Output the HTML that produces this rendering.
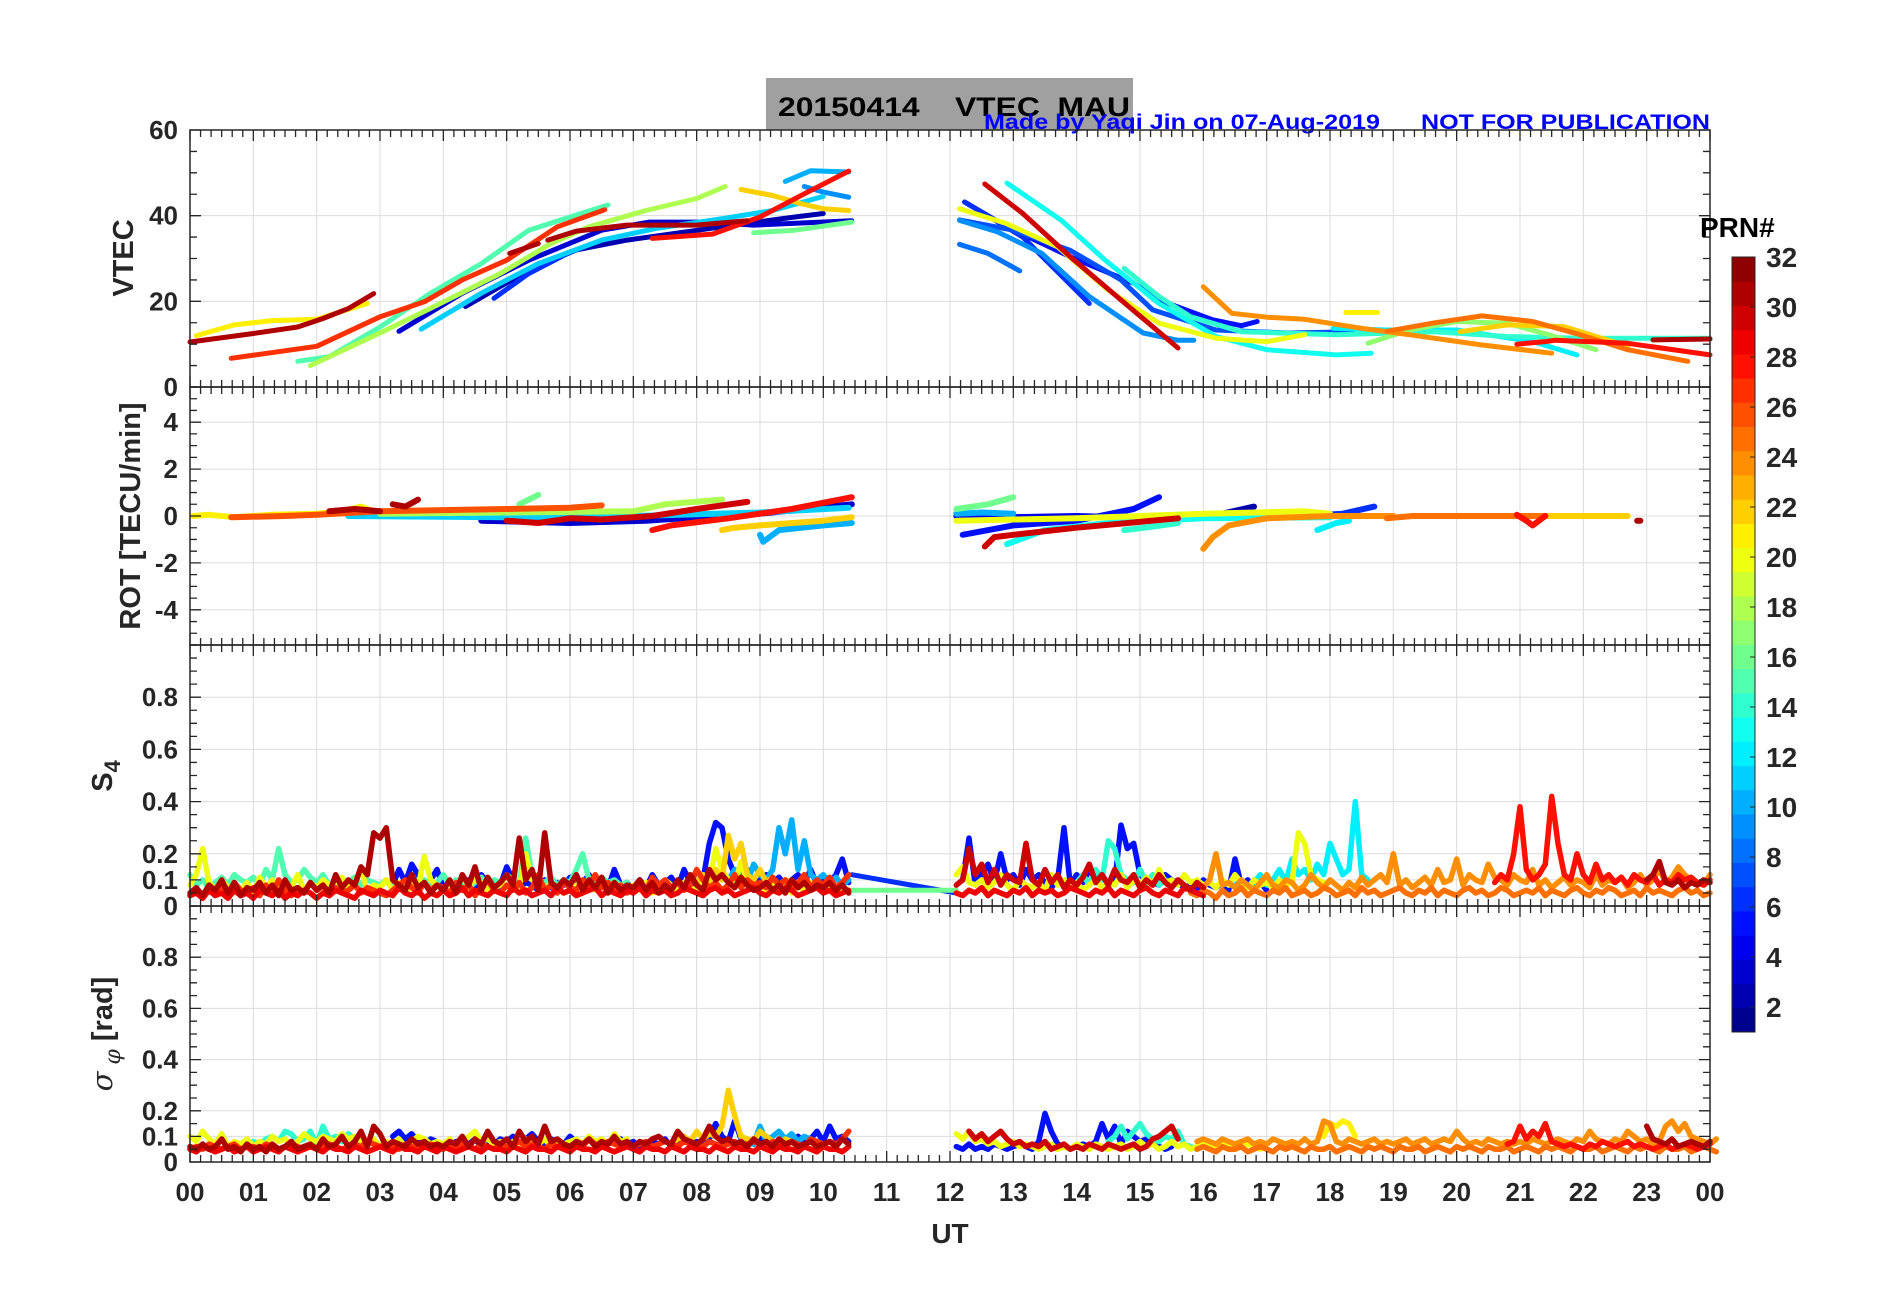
<!DOCTYPE html>
<html><head><meta charset="utf-8"><style>
html,body{margin:0;padding:0;background:#fff;}
svg{display:block;font-family:"Liberation Sans",Arial,sans-serif;}
</style></head><body>
<svg id="fig" width="1902" height="1292" viewBox="0 0 1902 1292" xmlns="http://www.w3.org/2000/svg">
<rect x="0" y="0" width="1902" height="1292" fill="#fff"/>
<rect x="766" y="78" width="367" height="52" fill="#a0a0a0"/>
<text x="778" y="116" font-size="27" font-weight="bold" fill="#000" textLength="352" lengthAdjust="spacingAndGlyphs" xml:space="preserve">20150414    VTEC  MAU</text>
<text x="984" y="129" font-size="21" font-weight="bold" fill="#0000ff" textLength="396" lengthAdjust="spacingAndGlyphs">Made by Yaqi Jin on 07-Aug-2019</text>
<text x="1421" y="129" font-size="21" font-weight="bold" fill="#0000ff" textLength="289" lengthAdjust="spacingAndGlyphs">NOT FOR PUBLICATION</text>
<g id="grid"></g><g id="data"></g><g id="axes"></g>
</svg>
<script>
// ---------- DATA ----------
const hourTickLabels=["00","01","02","03","04","05","06","07","08","09","10","11","12","13","14","15","16","17","18","19","20","21","22","23","00"];
const vtecTicks=[0,20,40,60];
const rotTicks=[-4,-2,0,2,4];
const s4Ticks=[0,0.1,0.2,0.4,0.6,0.8];
const sigTicks=[0,0.1,0.2,0.4,0.6,0.8];
const cbarTicks=[2,4,6,8,10,12,14,16,18,20,22,24,26,28,30,32];

// VTEC segments: [hour, TECU] keypoints
const vtec31a=[[0,10.5],[1,12.5],[1.7,14],[2.1,16],[2.5,18.3],[2.9,21.8]];
const vtec21a=[[0.1,12],[0.7,14.5],[1.3,15.5],[2,15.8],[2.8,19.5]];
const vtec27a=[[0.65,6.7],[2,9.5],[3,16.4],[3.7,19.9],[4.3,25],[5,29.6],[5.8,37.4],[6.55,41.4]];
const vtec15a=[[1.7,6],[2.2,7.1],[3,14],[3.8,21.9],[4.6,28.8],[5.35,36.6],[6,39.7],[6.6,42.5]];
const vtec18a=[[1.9,5],[3,12.6],[3.8,18.4],[4.9,26.5],[5.7,33.5],[6.3,37.4],[7.2,41.2],[8,44],[8.45,46.8]];
const vtec31b=[[5.05,31.2],[5.5,33.5]];
const vtec31c=[[5.65,34.3],[6.1,36.4],[6.9,37.8],[8,37.8],[8.8,38.8]];
const vtec3a=[[3.3,13],[4.3,21.9],[5.35,29.6],[6.5,36.6],[7.25,38.5],[8.2,38.5],[8.9,37.8],[10.45,38.8]];
const vtec11a=[[3.65,13.5],[4.6,21.9],[5.5,28.8],[6.5,34.3],[7.35,37],[8.4,39.3],[9.2,41.2],[10,44.5]];
const vtec2a=[[4.35,18.8],[5.35,27.3],[6.1,32],[6.9,34.3],[8.4,37.4],[9.55,39.7],[10,40.5]];
const vtec6a=[[4.8,20.7],[5.35,26.5],[6,31.5]];
const vtec28a=[[7.3,34.7],[8.25,35.7],[9,39.7],[9.7,45.1],[10.4,50.4]];
const vtec16a=[[8.9,36],[9.55,36.6],[10.45,38.5]];
const vtec22a=[[8.7,46.1],[9.2,44.7],[9.65,42.8],[10,41.6],[10.4,41.2]];
const vtec10a=[[9.4,48],[9.8,50.5],[10.4,50.2]];
const vtec9a=[[9.7,46.8],[10,45.5],[10.4,44.3]];
const vtec5b=[[12.23,43.2],[12.9,37.4],[13.9,30.4],[14.9,24.2],[15.3,20.3],[16.15,15.7],[16.6,14.3],[16.85,15.3]];
const vtec20b=[[12.15,41.6],[12.9,38.1],[13.7,32.7],[14.5,22.6],[15.3,14.9],[16.2,11.4],[17,10.6],[17.6,12.2]];
const vtec7b=[[12.15,39],[13,36.6],[13.9,31.9],[14.7,25],[15.2,18],[16.2,13.3],[17.35,12.6],[18.35,12.9]];
const vtec9b=[[12.15,38.9],[12.75,36.2],[13.45,31.2],[14.2,21.1],[15.05,12.6],[15.6,10.9],[15.85,10.9]];
const vtec8b=[[12.15,33.3],[12.6,31.2],[13.1,27.1]];
const vtec6b=[[12.23,43.2],[13.15,35],[14.2,19.5]];
const vtec30b=[[12.55,47.4],[13.15,40.5],[13.9,30.4],[14.7,20.3],[15.6,9.1]];
const vtec13b=[[12.9,47.6],[13.75,39],[14.45,29.6],[15.3,19.5],[16.2,11.8],[17,8.7],[18.1,7.5],[18.65,7.9]];
const vtec14b=[[14.75,27.7],[15.3,21.1],[15.8,16.4],[16.6,12.9],[18.1,12.2],[19.65,12.9],[20.8,11.8],[21.95,11.4],[24,11.4]];
const vtec24b=[[16,23.4],[16.45,17.2],[17,16.3],[17.6,15.8],[18.5,13.7],[19.25,12.2],[20.4,9.8],[21.5,7.9]];
const vtec21b=[[18.25,17.4],[18.75,17.4]];
const vtec25b=[[18.9,13],[19.65,15],[20.4,16.6],[21.2,15.3],[21.95,12.2],[22.7,8.7],[23.65,6]];
const vtec12b=[[18.05,13.7],[18.9,13.3],[20,13.3],[21.2,10.6],[21.9,7.5]];
const vtec17b=[[18.6,10.2],[19.25,13.3],[20,15.3],[20.8,14.9],[21.55,11.8],[22.2,8.7]];
const vtec22b=[[20.05,12.9],[20.8,14.5],[21.7,14.1],[22.7,9.5]];
const vtec28b=[[20.95,10],[21.4,10.6],[21.55,10.9],[22.7,10.2],[24,7.5]];
const vtec31d=[[23.1,11],[24,11.2]];

// ROT segments: [hour, TECU/min]
const rot21a=[[0.05,0],[0.3,0.05],[0.7,-0.05],[1.3,0.05],[2,0.1],[2.4,0.2],[2.7,0.4],[2.9,0.2]];
const rot26a=[[0.65,-0.05],[1.5,0],[2,0.05],[3,0.2],[4,0.25],[5,0.3],[6,0.35],[6.5,0.45]];
const rot31a=[[2.2,0.2],[2.6,0.3],[3,0.2]];
const rot31b=[[3.2,0.5],[3.4,0.4],[3.6,0.7]];
const rot30a=[[5,-0.2],[5.5,-0.3],[6,-0.1],[6.5,-0.15],[7.3,0],[8,0.3],[8.8,0.6]];
const rot3a=[[4.6,-0.2],[6,-0.3],[7.2,-0.2],[8,-0.05],[9,0.1],[10.45,0.5]];
const rot28a=[[7.3,-0.6],[7.6,-0.4],[8.5,-0.1],[9.5,0.3],[10.45,0.8]];
const rot16a=[[5.2,0.5],[5.5,0.9]];
const rot11a=[[2.5,0],[5,-0.05],[7,0],[9,0.15],[10.4,0.35]];
const rot18a=[[3,0.1],[5,0.15],[7,0.2],[7.5,0.5],[8.4,0.7]];
const rot22a=[[8.4,-0.6],[8.6,-0.5],[9,-0.4],[10,-0.2],[10.45,-0.05]];
const rot10a=[[9,-0.8],[9.05,-1.1],[9.3,-0.6],[10,-0.4],[10.45,-0.3]];
const rot16b=[[12.1,0.3],[12.6,0.5],[13,0.8]];
const rot10b=[[12.1,0.1],[12.5,0.15],[13,0.1]];
const rot5b=[[12.2,-0.8],[13,-0.4],[14,-0.2],[14.9,0.3],[15.3,0.8]];
const rot4b=[[12.1,0],[13,-0.05],[14,0],[15.3,-0.1]];
const rot20b=[[12.1,-0.2],[13,-0.15],[14,-0.1],[16,0.1],[17.6,0.2],[18,0.1]];
const rot30b=[[12.55,-1.3],[12.7,-0.9],[13,-0.8],[14,-0.5],[15.6,-0.1]];
const rot13b=[[12.9,-1.2],[13.5,-0.6],[14.5,-0.3],[16,-0.1],[18,-0.05]];
const rot14b=[[14.75,-0.6],[15.2,-0.45],[15.6,-0.3]];
const rot2b=[[15.5,0],[16.3,0.1],[16.8,0.4]];
const rot24b=[[16,-1.4],[16.15,-0.9],[16.4,-0.4],[17,-0.1],[18,0],[19,0]];
const rot12b=[[17.8,-0.6],[18.1,-0.3],[18.3,-0.2]];
const rot6b=[[17.6,0],[18.2,0.1],[18.7,0.4]];
const rot25b=[[18.9,-0.1],[19.3,0],[20,0],[21.4,0]];
const rot22b=[[20,0],[21.5,0],[22.7,0]];
const rot28b=[[20.95,0.05],[21.1,-0.2],[21.2,-0.4],[21.4,0]];
const rot31c=[[22.85,-0.2],[22.9,-0.2]];

// S4 series: start hour, 0.1 h step, values in 0.01 units
const s4p27a=[4,6,3,7,5,8,4,9,6,5,7,4,8,5,10,6,4,7,5,9,6,8,4,7,5,6,8,5,7,6,5,4,6,8,10,7,5,9,6,8,7,5,9,6,8,4,7,10,6,5,8,6,9,5,7,12,6,8,5,9,7,6,10,8,12,7,9,6,8,5,7,9,6,11,8,10,7,9,6,8,14,10,7,9,6,8,12,7,10,8,9,7,11,8,10,6,9,12,7,10,8,11,7,9,12];
const s4p20a=[8,12,22,9,6,10,7,8,6,9,5,11,7,10,6,8,7,12,6,9,7,10,8,6,11,7,9,14,6,8,7,10,6,9,5,8,7,19,10,8,6,9,7,11,8,10,9,6,7,8,12,9,7,20,10,8,6,9,7,5,6,8,7,10,6,9,5,8,6,7,8,6,9,5,7,10,8,6,9,7,6,12,9,22,14,10,8,17,9,7,8,6,9,7,10,5,8,6,9,7,6,8,5,7,6];
const s4p15a=[12,8,10,7,9,11,8,12,10,9,11,8,14,10,22,12,9,10,14,11,9,12,8,10,7,9,11,8,10,9,8,10,7,9,8,11,9,10,8,9,12,8,10,9,7,9,11,8,10,9,12,10,8,26,12,10,9,11,8,10,9,14,20,10,8,11,9,10,8,9];
const s4p5a=[8,14,9,16,12,8,10,14,7,9,6,8,10,7,12,9,6,8,15,10,7,9,8,6,10,7,9,8,11,7,9,12,8,10,7,14,8,9,6,10,7,12,8,9,11,7,14,9,8,10,24,32,30,18,12,9,14,8,10,12,9,11,8,10,12,9,14,8,10,9,12,18,9];
const s4p10a=[10,14,12,9,16,12,10,14,30,20,33,14,25,12,10,12,9,11,8,10];
const s4p22a=[9,12,10,14,10,27,18,24,12,10,14,9,11,8,10,9];
const s4p31a=[5,7,4,8,6,10,5,9,4,7,6,9,5,8,4,10,6,7,5,9,6,8,5,12,7,10,8,15,12,28,26,30,10,8,6,12,7,9,5,8,6,10,5,12,8,15,6,11,7,9,12,8,26,10,14,6,28,9,7,10,8,12,6,10,7,11,5,9,6,8,7,10,6,9,5,8,6,10,7,12,8,6,14,10,12,9,7,11,8,6,7,9,6,8,5,10,7,9,6,8,7,9,6,8,5];
const s4p29a=[4,5,3,6,4,5,3,6,4,5,3,6,5,4,6,3,5,4,6,5,3,5,4,6,5,4,3,6,5,4,6,5,4,7,5,4,6,3,5,4,6,4,5,7,4,6,5,4,6,5,4,7,5,6,4,5,6,4,7,5,6,4,5,6,7,4,6,5,4,6,5,7,4,6,5,6,4,5,7,6,5,4,6,7,5,6,4,5,6,7,5,4,6,5,7,6,4,5,6,7,5,6,4,5,6];
const s4p31b=[8,10,22,12,16,9,14,8,12,10,9,24,10,8,14,9,12,7,10,8,11,16,9,12,8,14,10,9,12,7,10,8,12,9,7,10,8,6,9,7];
const s4p5b=[10,26,8,12,16,9,20,10,12,8,14,10,12,9,7,10,30,8,12,9,14,10,12,8,9,31,22,24,12,10,9,8,12,10,9,7,8,6,10,8,7,9,6,18,8,10,7,9,6];
const s4p14b=[9,12,8,14,10,25,22,12,10,9,14,9,12,8,10,7];
const s4p20b=[12,15,9,8,10,7,9,12,8,6,10,8,7,9,6,12,8,10,7,9,6,8,10,7,9,8,12,7,10,8,11,8,14,9,10,8,12,9,10,8,9,7,10,8,12,9,7,10,8,9,7,10,8,9,28,24,12,10,9];
const s4p12b=[8,10,7,9,12,8,10,14,9,18,12,14,10,16,12,24,18,12,14,40,12,10];
const s4p24b=[6,9,7,10,20,8,9,7,10,8,6,9,12,8,7,10,9,6,8,12,9,7,10,8,6,9,7,11,8,10,12,9,20,8,10,7,9,11,8,14,9,10,18,8,12,10,9,16,11,10,8,12,10,9,14,8,10,7,9,11,8,10,9,7,12,8,10,9,11,7,9,12,8,10,14,9,11,15,12,10,9,8,12];
const s4p25b=[5,4,6,5,3,6,4,5,7,4,6,5,4,6,5,7,4,5,6,4,5,7,6,4,5,6,4,7,5,6,4,5,6,7,5,4,6,5,7,4,6,5,4,6,7,5,6,4,5,7,6,4,5,6,5,7,4,6,5,4,6,7,5,4,6,5,7,6,4,5,6,4,7,5,6,5,4,6,7,5,6,4,5];
const s4p28b=[9,12,10,20,38,14,10,12,16,42,24,12,10,20,12,9,16,10,12,9,11,8,12,10,9,12,8,10,9,12,10,11,9,8,10];
const s4p29b=[5,4,6,5,7,4,6,5,4,6,5,7,4,6,5,6,4,5,7,6,5,4,6,5,7,4,6,5,4,6,7,5,4,6,5,4,7,6,5,4];
const s4p31c=[10,12,17,9,8,10,7,9,8,10,9];
const s4GapP6=[[10.45,0.12],[12.1,0.05]];
const s4GapP16=[[10.45,0.06],[12.1,0.06]];

// sigma-phi series
const sgp31a=[6,5,7,5,6,9,5,6,4,7,5,6,4,7,5,6,8,5,6,7,5,9,6,7,10,6,8,12,6,14,11,6,8,7,6,9,7,8,6,7,6,8,7,10,6,9,7,12,8,7,9,6,12,8,10,7,14,8,9,7,6,8,7,9,6,8,7,10,7,8,6,8,7,9,10,8,7,12,9,8,7,9,14,10,8,9,7,8,6,9,7,8,6,9,7,8,6,7,8,6,7,8,6,9,7];
const sgp20a=[10,8,12,9,7,11,6,8,7,9,6,8,7,10,8,9,7,8,11,9,8,10,9,8,11,9,10,8,7,9,6,8,7,9,6,8,10,9,7,8,7,9,6,8,10,12,8,9,7,8,6,8,7,9,8,7,9,6,8,7,8,9,7,10,8,9,7,11,8,9];
const sgp14a=[6,7,8,7,9,10,8,12,11,8,9,12,7,14,9,10,8,11,9,7,8];
const sgp27a=[5,6,5,7,6,5,6,7,5,6,6,5,7,6,5,6,7,6,5,6,5,6,7,6,5,6,7,6,8,7,6,7,6,5,7,6,5,6,7,6,5,7,6,7,6,5,7,6,5,7,6,7,8,6,7,6,5,7,6,7,6,7,6,9,7,6,8,7,6,7,6,7,8,6,7,8,7,6,8,7,7,6,8,7,6,7,8,6,7,8,7,6,8,7,6,8,7,6,9,8,7,8,7,9,12];
const sgp29a=[5,4,6,5,4,5,6,4,5,6,4,5,6,5,4,6,5,4,5,6,5,4,6,5,5,4,6,5,4,5,6,5,4,6,5,5,4,6,5,4,6,5,4,5,6,5,4,6,5,5,4,6,5,4,6,5,5,4,6,5,4,6,5,5,4,6,5,4,5,6,5,4,6,5,5,4,6,5,4,6,5,5,4,6,5,4,6,5,5,4,6,5,4,6,5,5,4,6,5,4,6,5,5,4,6];
const sgp5a=[10,12,9,11,8,7,9,8,6,7,8,6,7,9,6,8,7,9,8,10,7,9,11,8,7,9,8,7,10,8,7,9,8,6,7,8,9,7,8,6,7,8,7,9,6,8,10,7,8,7,9,15,10,8,16,9,8,7,9,10,8,7,9,8,10,8,9,12,8,14,9,10,8];
const sgp22a=[8,7,9,10,8,12,9,11,10,14,28,18,10,9,8,12,10,8,7,9,8];
const sgp10a=[9,8,7,14,8,10,12,9,11,8,10,9,8,7];
const sgp30b=[12,9,11,8,10,12,9,7,8,6,7,6,8,5,6,7,5,6,5,7,6,5,7,6,5,6,7,5,6,9,10,12,14,9];
const sgp5b=[6,5,7,5,6,5,7,6,5,6,7,6,5,8,19,12,7,6,5,6,7,6,8,15,9,14,7,12,10,8,9,7,6,5,6];
const sgp14b=[8,10,14,9,12,15,11,9,8,10,9,12,7,6,5,6];
const sgp20b=[11,9,12,8,9,7,8,6,7,8,6,7,6,5,6,7,5,6,5,7,6,5,7,6,5,6,7,5,6,8,6,7,5,6,8,6,7,5,6,7,6,5,7,6,5,6,7,6,5];
const sgp24b=[8,9,8,7,9,8,7,8,9,7,8,7,9,8,7,8,7,9,7,8,16,15,8,7,9,8,7,8,9,7,8,7,8,9,7,8,9,7,8,9,8,12,9,7,8,7,9,8,7,8,7,8,7,9,8,7,8,9,8,7,9,8,12,9,8,7,9,8,12,10,8,9,7,8,14,16,12,15,10,9,8,7,9];
const sgp25b=[5,6,5,4,6,5,5,6,4,5,6,5,4,6,5,6,5,4,6,5,5,6,4,5,6,5,4,6,5,6,5,4,6,5,5,6,4,5,6,5,4,6,5,6,5,4,6,5,5,6,4,5,6,5,4,6,5,6,5,4,6,5,5,6,4,5,6,5,4,6,5,6,5,4,6,5,5,6,4,5,6,5,4];
const sgp21b=[10,15,14,16,15,10];
const sgp28b=[7,8,14,9,12,10,15,8,7,6,7,6,5,7,6,8,7,6,7,8,6,7,6,5,6,7,5,6,7,6,5,6,7];
const sgp31c=[14,9,8,7,9,6,7,8,7,6,8];

// ---------- LAYOUT ----------
const X0=190,X1=1710;
const P={vtec:{t:130,b:387,min:0,max:60},rot:{t:387,b:645,min:-5.5,max:5.5},s4:{t:645,b:906,min:0,max:1},sig:{t:906,b:1162,min:0,max:1}};
const xS=h=>X0+h*(X1-X0)/24;
const yS=(p,v)=>p.b-(v-p.min)/(p.max-p.min)*(p.b-p.t);
function jet(prn){const t=(prn-0.5)/32;const c=v=>Math.round(255*Math.max(0,Math.min(1,v)));
 return `rgb(${c(1.5-Math.abs(4*t-3))},${c(1.5-Math.abs(4*t-2))},${c(1.5-Math.abs(4*t-1))})`;}
const NS="http://www.w3.org/2000/svg";
function mk(tag,attrs,parent){const e=document.createElementNS(NS,tag);for(const k in attrs)e.setAttribute(k,attrs[k]);parent.appendChild(e);return e;}
const gGrid=document.getElementById('grid'),gData=document.getElementById('data'),gAxes=document.getElementById('axes');

function drawPts(p,pts,prn,w,name){
 const d=pts.map((q,i)=>(i?'L':'M')+xS(q[0]).toFixed(1)+' '+yS(p,q[1]).toFixed(1)).join(' ');
 const e=mk('path',{d:d,fill:'none',stroke:jet(prn),'stroke-width':w,'stroke-linejoin':'round','stroke-linecap':'round'},gData);
 
 
}
function drawSeries(p,t0,vals,prn,w,name){
 const pts=vals.map((v,i)=>[t0+i*0.1,v/100]);
 drawPts(p,pts,prn,w,name);
}

// grid & axes
const panelNames=['vtec','rot','s4','sig'];
const panelTicks={vtec:vtecTicks,rot:rotTicks,s4:s4Ticks,sig:sigTicks};
const minorStep={vtec:5,rot:0.5,s4:0.05,sig:0.05};
panelNames.forEach(k=>{
 const p=P[k];
 for(let h=0;h<=24;h++){const l=mk('line',{x1:xS(h),x2:xS(h),y1:p.t,y2:p.b,stroke:'#dcdcdc','stroke-width':1},gGrid);
  }
 panelTicks[k].forEach(v=>{const l=mk('line',{x1:X0,x2:X1,y1:yS(p,v),y2:yS(p,v),stroke:'#dcdcdc','stroke-width':1},gGrid);
  });
 const fr=mk('rect',{x:X0,y:p.t,width:X1-X0,height:p.b-p.t,fill:'none',stroke:'#262626','stroke-width':1.5},gAxes);
 
 let d='';
 for(let i=0;i<=144;i++){const x=xS(i/6);const L=(i%6==0)?11:7;d+=`M${x} ${p.b}v${-L}M${x} ${p.t}v${L}`;}
 const ms=minorStep[k];
 for(let v=p.min;v<=p.max+1e-9;v+=ms){const y=yS(p,Math.round(v*1000)/1000);const maj=panelTicks[k].some(t=>Math.abs(t-v)<1e-6);const L=maj?11:7;d+=`M${X0} ${y}h${L}M${X1} ${y}h${-L}`;}
 const tk=mk('path',{d:d,stroke:'#262626','stroke-width':1.3,fill:'none'},gAxes);
 
 panelTicks[k].forEach(v=>{const t=mk('text',{x:178,y:yS(p,v)+9,'text-anchor':'end','font-size':26,'font-weight':'bold',fill:'#262626'},gAxes);
  t.textContent=String(v);});
});
for(let h=0;h<=24;h++){const t=mk('text',{x:xS(h),y:1201,'text-anchor':'middle','font-size':26,'font-weight':'bold',fill:'#262626'},gAxes);
 t.textContent=hourTickLabels[h];}

// VTEC
const vtecSegs=[[vtec2a,2],[vtec3a,3],[vtec6a,6],[vtec9a,9],[vtec10a,10],[vtec11a,11],[vtec15a,15],[vtec16a,16],[vtec18a,18],[vtec21a,21],[vtec22a,22],[vtec27a,27],[vtec28a,28],[vtec31a,31],[vtec31b,31],[vtec31c,31],
 [vtec5b,5],[vtec6b,6],[vtec7b,7],[vtec8b,8],[vtec9b,9],[vtec12b,12],[vtec13b,13],[vtec14b,14],[vtec17b,17],[vtec20b,20],[vtec21b,21],[vtec22b,22],[vtec24b,24],[vtec25b,25],[vtec28b,28],[vtec30b,30],[vtec31d,31]];
vtecSegs.sort((a,b)=>a[1]-b[1]).forEach(s=>drawPts(P.vtec,s[0],s[1],5,'vtec-prn'+s[1]));
// ROT
const rotSegs=[[rot3a,3],[rot10a,10],[rot11a,11],[rot16a,16],[rot18a,18],[rot21a,21],[rot22a,22],[rot26a,26],[rot28a,28],[rot30a,30],[rot31a,31],[rot31b,31],
 [rot2b,2],[rot4b,4],[rot5b,5],[rot6b,6],[rot10b,10],[rot12b,12],[rot13b,13],[rot14b,14],[rot16b,16],[rot20b,20],[rot22b,22],[rot24b,24],[rot25b,25],[rot28b,28],[rot30b,30],[rot31c,31]];
rotSegs.sort((a,b)=>a[1]-b[1]).forEach(s=>drawPts(P.rot,s[0],s[1],6,'rot-prn'+s[1]));
// S4
drawPts(P.s4,s4GapP6,6,5,'s4-prn6-gap');
drawPts(P.s4,s4GapP16,16,5,'s4-prn16-gap');
const s4Segs=[[s4p5a,3.2,5],[s4p10a,8.5,10],[s4p15a,0.0,15],[s4p20a,0.0,20],[s4p22a,8.0,22],[s4p27a,0.0,27],[s4p29a,0.0,29],[s4p31a,0.0,31],
 [s4p5b,12.2,5],[s4p12b,16.5,12],[s4p14b,14.0,14],[s4p20b,12.1,20],[s4p24b,15.8,24],[s4p25b,15.8,25],[s4p28b,20.6,28],[s4p29b,12.1,29],[s4p31b,12.1,30],[s4p31c,23.0,31]];
s4Segs.sort((a,b)=>a[2]-b[2]).forEach(s=>drawSeries(P.s4,s[1],s[0],s[2],5.5,'s4-prn'+s[2]));
// sigma
const sgSegs=[[sgp5a,3.2,5],[sgp10a,8.7,10],[sgp14a,0.8,14],[sgp20a,0.0,20],[sgp22a,7.5,22],[sgp27a,0.0,27],[sgp29a,0.0,29],[sgp31a,0.0,31],
 [sgp5b,12.1,5],[sgp14b,14.5,14],[sgp20b,12.1,20],[sgp21b,17.9,21],[sgp24b,15.9,24],[sgp25b,15.9,25],[sgp28b,20.8,28],[sgp30b,12.3,30],[sgp31c,23.0,31]];
sgSegs.sort((a,b)=>a[2]-b[2]).forEach(s=>drawSeries(P.sig,s[1],s[0],s[2],5.5,'sigma-prn'+s[2]));

// axis titles
function rotText(x,y,txt,name,size){const t=mk('text',{x:x,y:y,transform:`rotate(-90 ${x} ${y})`,'text-anchor':'middle','font-size':size,'font-weight':'bold',fill:'#262626'},gAxes);
 t.textContent=txt;return t;}
rotText(133,258,'VTEC','vtec-axis-title',29);
rotText(140,516,'ROT [TECU/min]','rot-axis-title',29);
const s4t=rotText(112,776,'S','s4-axis-title',29);
const s4sub=mk('tspan',{'font-size':22,dy:8},s4t);s4sub.textContent='4';
const sgt=mk('text',{x:112,y:1034,transform:'rotate(-90 112 1034)','text-anchor':'middle','font-size':29,'font-weight':'bold',fill:'#262626'},gAxes);

const ts1=mk('tspan',{'font-style':'italic','font-weight':'normal','font-family':'DejaVu Serif, serif'},sgt);ts1.textContent='σ';
const ts2=mk('tspan',{'font-style':'italic','font-weight':'normal','font-size':22,dy:8,'font-family':'DejaVu Serif, serif'},sgt);ts2.textContent=' φ';
const ts3=mk('tspan',{dy:-8},sgt);ts3.textContent=' [rad]';
const ut=mk('text',{x:950,y:1243,'text-anchor':'middle','font-size':28,'font-weight':'bold',fill:'#262626'},gAxes);
ut.textContent='UT';

// colorbar
const CB={x:1732,w:23,t:257,b:1032};
for(let i=1;i<=32;i++){const h=(CB.b-CB.t)/32;
 const r=mk('rect',{x:CB.x,y:CB.b-i*h,width:CB.w,height:h+0.5,fill:jet(i)},gAxes);
 }
const cbf=mk('rect',{x:CB.x,y:CB.t,width:CB.w,height:CB.b-CB.t,fill:'none',stroke:'#262626','stroke-width':1},gAxes);

cbarTicks.forEach(v=>{const y=CB.b-(v-1)/31*(CB.b-CB.t);
 const l=mk('line',{x1:CB.x+CB.w-5,x2:CB.x+CB.w,y1:y,y2:y,stroke:'#262626','stroke-width':1},gAxes);
 
 const t=mk('text',{x:1766,y:y+10,'font-size':28,'font-weight':'bold',fill:'#262626'},gAxes);
 t.textContent=String(v);});
const prn=mk('text',{x:1700,y:237,'font-size':28,'font-weight':'bold',fill:'#000'},gAxes);
prn.textContent='PRN#';
</script>
</body></html>
